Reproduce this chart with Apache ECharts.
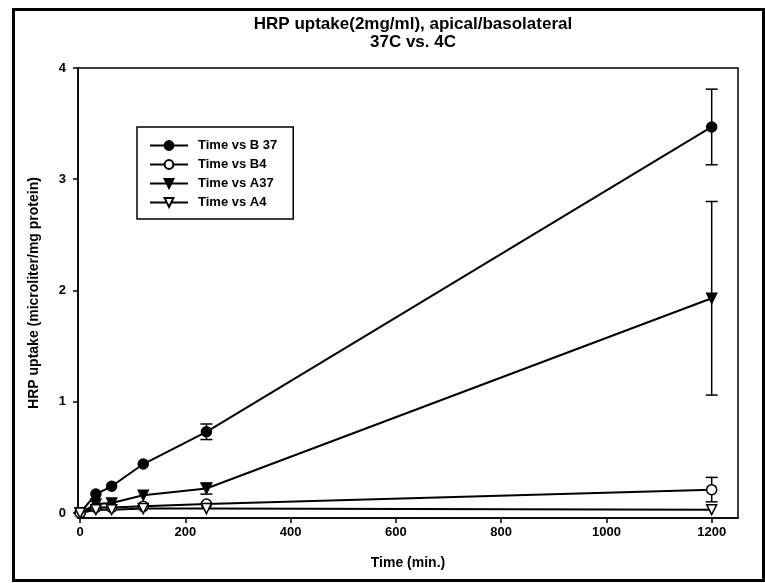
<!DOCTYPE html>
<html>
<head>
<meta charset="utf-8">
<script src="https://cdn.jsdelivr.net/npm/echarts@6/dist/echarts.min.js"></script>
<style>
  html, body { margin: 0; padding: 0; background: #fff; }
  #chart { width: 765px; height: 583px; }
</style>
</head>
<body>
<div id="chart"></div>
<script>
// values
const times = [0, 30, 60, 120, 240, 1200];
const b37 = [0, 0.17, 0.24, 0.44, 0.73, 3.47];
const b37Err = [0, 0, 0, 0, 0.07, 0.34];
const b4 = [0, 0.05, 0.05, 0.06, 0.08, 0.21];
const b4Err = [0, 0, 0, 0, 0, 0.11];
const a37 = [0, 0.08, 0.09, 0.16, 0.22, 1.93];
const a37Err = [0, 0, 0, 0, 0.05, 0.87];
const a4 = [0, 0.03, 0.03, 0.04, 0.04, 0.03];
const a4Err = [0, 0, 0, 0, 0, 0];
const xTicks = [0, 200, 400, 600, 800, 1000, 1200];
const yTicks = [0, 1, 2, 3, 4];

const font = "'Liberation Sans', Arial, sans-serif";

const groups = [
  { name: "Time vs B 37", values: b37, errs: b37Err, symbol: "circle", rotate: 0, filled: true },
  { name: "Time vs B4", values: b4, errs: b4Err, symbol: "circle", rotate: 0, filled: false },
  { name: "Time vs A37", values: a37, errs: a37Err, symbol: "triangle", rotate: 180, filled: true },
  { name: "Time vs A4", values: a4, errs: a4Err, symbol: "triangle", rotate: 180, filled: false },
];

const series = [];
groups.forEach((g) => {
  series.push({
    name: g.name,
    type: "line",
    data: times.map((t, i) => [t, g.values[i]]),
    symbol: g.symbol,
    symbolRotate: g.rotate,
    symbolSize: 10,
    showAllSymbol: true,
    z: 3,
    lineStyle: { color: "#000", width: 2 },
    itemStyle: {
      color: g.filled ? "#000" : "#fff",
      borderColor: "#000",
      borderWidth: 1.5,
    },
    emphasis: { disabled: true },
  });
  series.push({
    name: g.name + " err",
    type: "custom",
    z: 2,
    data: times.map((t, i) => [t, g.values[i], g.errs[i]]),
    renderItem: (params, api) => {
      const x = api.value(0);
      const y = api.value(1);
      const e = api.value(2);
      if (!e) return { type: "group", children: [] };
      const hi = api.coord([x, y + e]);
      const lo = api.coord([x, y - e]);
      const cap = 6;
      const st = { stroke: "#000", lineWidth: 1.5 };
      return {
        type: "group",
        children: [
          { type: "line", shape: { x1: hi[0], y1: hi[1], x2: lo[0], y2: lo[1] }, style: st },
          { type: "line", shape: { x1: hi[0] - cap, y1: hi[1], x2: hi[0] + cap, y2: hi[1] }, style: st },
          { type: "line", shape: { x1: lo[0] - cap, y1: lo[1], x2: lo[0] + cap, y2: lo[1] }, style: st },
        ],
      };
    },
  });
});

const myChart = echarts.init(document.getElementById("chart"));
myChart.setOption({
  backgroundColor: "#fff",
  animation: false,
  title: {
    text: "HRP uptake(2mg/ml), apical/basolateral\n37C vs. 4C",
    left: 408,
    textAlign: "center",
    top: 10,
    textStyle: {
      fontFamily: font,
      fontSize: 17,
      fontWeight: "bold",
      color: "#000",
      lineHeight: 18,
    },
  },
  graphic: [
    {
      type: "rect",
      left: 11,
      top: 7,
      z: 10,
      shape: { width: 750, height: 571 },
      style: { fill: "none", stroke: "#000", lineWidth: 3 },
    },
  ],
  legend: {
    orient: "vertical",
    left: 137,
    top: 127,
    data: groups.map((g) => g.name),
    borderColor: "#000",
    borderWidth: 1.5,
    padding: [12, 16, 10, 12],
    itemWidth: 38,
    itemHeight: 11,
    itemGap: 6,
    textStyle: {
      fontFamily: font,
      fontSize: 13,
      fontWeight: "bold",
      color: "#000",
      padding: [0, 0, 0, 5],
    },
  },
  grid: {
    left: 78,
    right: 27,
    top: 68,
    bottom: 65,
    show: true,
    borderColor: "#000",
    borderWidth: 1.5,
  },
  xAxis: {
    type: "value",
    min: -4,
    max: 1250,
    name: "Time (min.)",
    nameLocation: "middle",
    nameGap: 38,
    nameTextStyle: { fontFamily: font, fontSize: 14, fontWeight: "bold", color: "#000" },
    axisLine: { show: true, onZero: false, lineStyle: { color: "#000", width: 1.5 } },
    axisTick: { show: true, length: 5, customValues: xTicks, lineStyle: { color: "#000", width: 1.5 } },
    axisLabel: {
      customValues: xTicks,
      formatter: (v) => String(v),
      margin: 8,
      fontFamily: font,
      fontSize: 13,
      fontWeight: "bold",
      color: "#000",
    },
    splitLine: { show: false },
  },
  yAxis: {
    type: "value",
    min: -0.045,
    max: 4,
    name: "HRP uptake (microliter/mg protein)",
    nameLocation: "middle",
    nameGap: 37,
    nameTextStyle: { fontFamily: font, fontSize: 14, fontWeight: "bold", color: "#000" },
    axisLine: { show: true, onZero: false, lineStyle: { color: "#000", width: 1.5 } },
    axisTick: { show: true, length: 5, customValues: yTicks, lineStyle: { color: "#000", width: 1.5 } },
    axisLabel: {
      customValues: yTicks,
      formatter: (v) => String(v),
      margin: 12,
      fontFamily: font,
      fontSize: 13,
      fontWeight: "bold",
      color: "#000",
    },
    splitLine: { show: false },
  },
  series: series,
});
</script>
</body>
</html>
